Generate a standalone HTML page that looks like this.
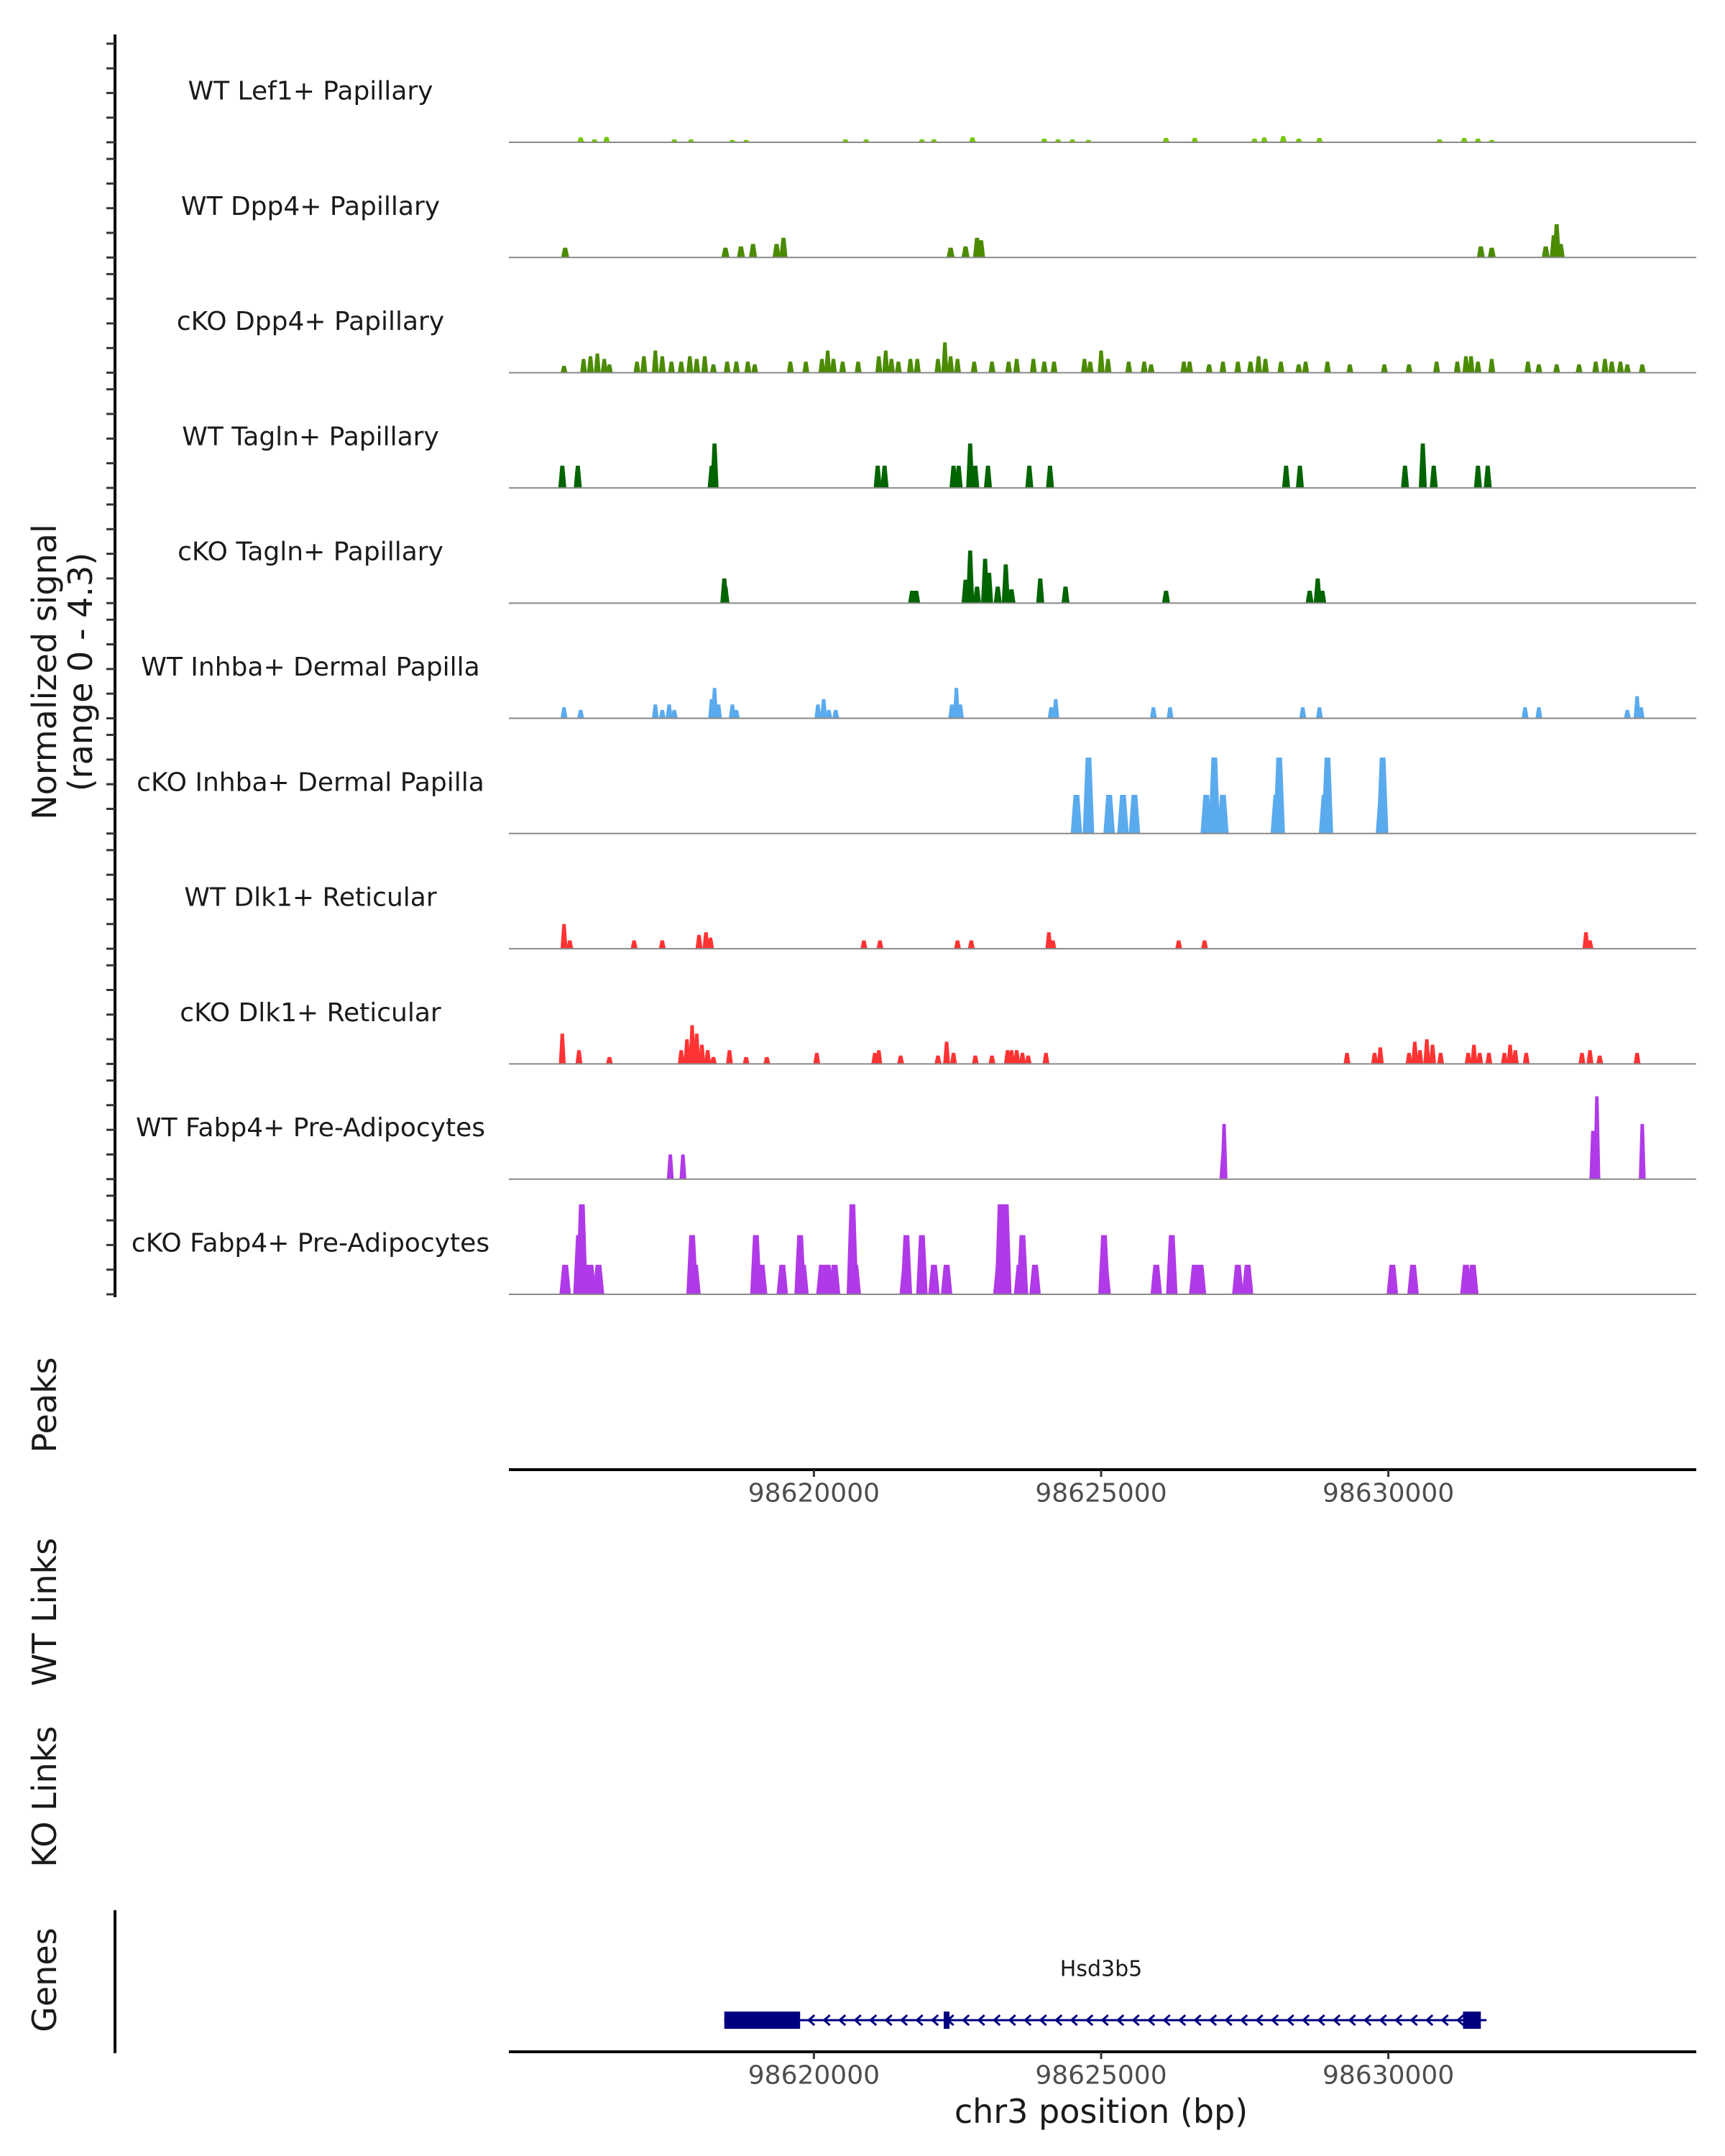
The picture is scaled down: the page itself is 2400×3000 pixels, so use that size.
<!DOCTYPE html>
<html><head><meta charset="utf-8"><style>
html,body{margin:0;padding:0;background:#fff}
svg{display:block}
text{font-family:"DejaVu Sans","Liberation Sans",sans-serif}
</style></head>
<body>
<svg id="chart" width="2400" height="3000" viewBox="0 0 2400 3000" xmlns="http://www.w3.org/2000/svg">
<g id="axes"></g>
<g id="tracks"></g>
<g id="gene"></g>
</svg>
<script>
const trackNames = ["WT Lef1+ Papillary","WT Dpp4+ Papillary","cKO Dpp4+ Papillary","WT Tagln+ Papillary","cKO Tagln+ Papillary","WT Inhba+ Dermal Papilla","cKO Inhba+ Dermal Papilla","WT Dlk1+ Reticular","cKO Dlk1+ Reticular","WT Fabp4+ Pre-Adipocytes","cKO Fabp4+ Pre-Adipocytes"];
const trackColors = ["#72c800","#4b8b00","#4b8b00","#006400","#006400","#5aaaee","#5aaaee","#ff3333","#ff3333","#b03ae8","#b03ae8"];
const peakWidthKb = [0.12,0.14,0.12,0.14,0.14,0.12,0.2,0.12,0.12,0.12,0.2];
const pos0 = [98615.94,98616.18,98616.39,98617.57,98617.86,98618.58,98618.82,98620.55,98620.91,98621.88,98622.09,98622.76,98624.01,98624.25,98624.50,98624.78,98626.13,98626.63,98627.67,98627.84,98628.17,98628.44,98628.80,98630.89,98631.32,98631.56,98631.80];
const h0 = [0.2,0.12,0.22,0.12,0.12,0.1,0.1,0.12,0.12,0.12,0.12,0.2,0.15,0.12,0.12,0.1,0.18,0.18,0.15,0.2,0.25,0.15,0.18,0.12,0.18,0.15,0.1];
const pos1 = [98615.67,98618.46,98618.73,98618.94,98619.35,98619.47,98622.38,98622.64,98622.84,98622.91,98631.61,98631.80,98632.74,98632.88,98632.93,98633.00];
const h1 = [0.4,0.4,0.45,0.55,0.55,0.8,0.4,0.45,0.8,0.7,0.45,0.4,0.45,0.9,1.35,0.55];
const pos2 = [98615.65,98615.99,98616.11,98616.23,98616.35,98616.44,98616.92,98617.04,98617.24,98617.36,98617.52,98617.69,98617.84,98617.96,98618.10,98618.25,98618.49,98618.65,98618.85,98618.97,98619.59,98619.86,98620.14,98620.24,98620.34,98620.50,98620.77,98621.13,98621.25,98621.35,98621.47,98621.68,98621.80,98622.16,98622.28,98622.38,98622.50,98622.79,98623.10,98623.39,98623.53,98623.82,98624.01,98624.18,98624.71,98624.81,98625.00,98625.12,98625.48,98625.75,98625.87,98626.44,98626.54,98626.88,98627.12,98627.38,98627.60,98627.74,98627.86,98628.13,98628.44,98628.56,98628.94,98629.33,98629.93,98630.36,98630.84,98631.20,98631.35,98631.44,98631.56,98631.80,98632.43,98632.62,98632.93,98633.32,98633.61,98633.77,98633.89,98634.04,98634.16,98634.42];
const h2 = [0.28,0.56,0.67,0.78,0.56,0.34,0.45,0.67,0.9,0.67,0.45,0.45,0.67,0.56,0.67,0.34,0.45,0.45,0.45,0.34,0.45,0.45,0.56,0.9,0.56,0.45,0.45,0.67,0.9,0.56,0.45,0.56,0.56,0.56,1.23,0.67,0.56,0.45,0.45,0.45,0.56,0.56,0.45,0.45,0.56,0.45,0.9,0.56,0.45,0.45,0.34,0.45,0.45,0.34,0.45,0.45,0.45,0.67,0.56,0.45,0.34,0.45,0.45,0.34,0.34,0.34,0.45,0.45,0.67,0.67,0.45,0.56,0.45,0.34,0.34,0.34,0.45,0.56,0.45,0.45,0.34,0.34];
const pos3 = [98615.62,98615.89,98618.22,98618.27,98621.11,98621.23,98622.43,98622.52,98622.72,98622.81,98623.03,98623.75,98624.11,98628.22,98628.46,98630.29,98630.60,98630.79,98631.56,98631.73];
const h3 = [0.9,0.9,0.9,1.8,0.9,0.9,0.9,0.9,1.8,0.9,0.9,0.9,0.9,0.9,0.9,0.9,1.8,0.9,0.9,0.9];
const pos4 = [98618.44,98618.46,98621.71,98621.78,98622.64,98622.72,98622.84,98622.98,98623.05,98623.20,98623.34,98623.44,98623.94,98624.38,98626.13,98628.63,98628.77,98628.85];
const h4 = [1.0,0.67,0.5,0.5,0.95,2.13,0.67,1.8,1.23,0.67,1.57,0.56,1.0,0.67,0.5,0.5,1.0,0.5];
const pos5 = [98615.65,98615.94,98617.24,98617.36,98617.48,98617.57,98618.22,98618.27,98618.34,98618.58,98618.65,98620.07,98620.17,98620.26,98620.38,98622.40,98622.48,98622.55,98624.13,98624.21,98625.91,98626.20,98628.51,98628.80,98632.38,98632.62,98634.16,98634.33,98634.40];
const h5 = [0.45,0.34,0.56,0.34,0.56,0.34,0.78,1.23,0.56,0.56,0.34,0.56,0.78,0.34,0.34,0.56,1.23,0.56,0.45,0.78,0.45,0.45,0.45,0.45,0.45,0.45,0.34,0.9,0.45];
const pos6 = [98624.57,98624.78,98625.14,98625.38,98625.58,98626.83,98626.97,98627.12,98628.05,98628.10,98628.89,98628.94,98629.88,98629.90];
const h6 = [1.57,3.08,1.57,1.57,1.57,1.57,3.08,1.57,1.57,3.08,1.57,3.08,1.57,3.08];
const pos7 = [98615.65,98615.75,98616.87,98617.36,98618.00,98618.12,98618.20,98620.87,98621.15,98622.50,98622.74,98624.09,98624.16,98626.35,98626.80,98633.44,98633.51];
const h7 = [1.0,0.34,0.34,0.34,0.56,0.67,0.45,0.34,0.34,0.34,0.34,0.67,0.34,0.34,0.34,0.67,0.34];
const pos8 = [98615.62,98615.91,98616.44,98617.69,98617.79,98617.88,98617.96,98618.05,98618.15,98618.25,98618.53,98618.82,98619.18,98620.05,98621.06,98621.13,98621.51,98622.16,98622.31,98622.43,98622.81,98623.10,98623.37,98623.44,98623.53,98623.63,98623.73,98624.04,98629.28,98629.76,98629.86,98630.36,98630.46,98630.55,98630.67,98630.77,98630.91,98631.39,98631.49,98631.59,98631.75,98632.02,98632.12,98632.21,98632.40,98633.37,98633.51,98633.68,98634.33];
const h8 = [1.23,0.56,0.28,0.56,1.0,1.57,1.23,0.78,0.56,0.28,0.56,0.28,0.28,0.45,0.45,0.56,0.34,0.34,0.9,0.45,0.34,0.34,0.56,0.56,0.56,0.45,0.34,0.45,0.45,0.45,0.67,0.45,0.9,0.56,1.0,0.78,0.45,0.45,0.78,0.45,0.45,0.45,0.78,0.56,0.45,0.45,0.56,0.34,0.45];
const pos9 = [98617.50,98617.72,98627.12,98627.14,98633.56,98633.63,98634.42];
const h9 = [1.0,1.0,1.0,2.24,1.96,3.36,2.24];
const pos10 = [98615.67,98615.91,98615.96,98616.01,98616.11,98616.25,98617.88,98617.93,98618.99,98619.09,98619.45,98619.76,98619.81,98620.14,98620.24,98620.36,98620.67,98620.72,98621.59,98621.61,98621.88,98622.09,98622.31,98623.22,98623.25,98623.29,98623.34,98623.58,98623.63,98623.85,98625.05,98625.07,98625.96,98626.23,98626.63,98626.73,98627.38,98627.55,98630.07,98630.43,98631.35,98631.47];
const h10 = [1.2,2.4,3.65,1.2,1.2,1.2,2.4,1.2,2.4,1.2,1.2,2.4,1.2,1.2,1.2,1.2,3.65,1.2,1.2,2.4,2.4,1.2,1.2,1.2,3.65,2.4,3.65,1.2,2.4,1.2,2.4,1.2,1.2,2.4,1.2,1.2,1.2,1.2,1.2,1.2,1.2,1.2];
const trackPos = [pos0,pos1,pos2,pos3,pos4,pos5,pos6,pos7,pos8,pos9,pos10];
const trackH = [h0,h1,h2,h3,h4,h5,h6,h7,h8,h9,h10];
const xTicks = [98620000,98625000,98630000];
const xTickLabels = ["98620000","98625000","98630000"];
const geneName = "Hsd3b5";
const geneStartKb = 98618.44, geneEndKb = 98631.71;
const exonStartKb = [98618.44,98622.26,98631.30];
const exonEndKb = [98619.76,98622.36,98631.61];

const NS="http://www.w3.org/2000/svg";
const X0=708,X1=2360, KB0=98614.69, KB1=98635.36;
function xs(kb){return X0+(kb-KB0)/(KB1-KB0)*(X1-X0);}
function xbp(bp){return xs(bp/1000);}
const UNIT=34.3;
function base(i){return 198+160.3*i;}
function mk(tag,attrs,parent){const e=document.createElementNS(NS,tag);for(const k in attrs)e.setAttribute(k,attrs[k]);parent.appendChild(e);return e;}
const axes=document.getElementById('axes'), tracks=document.getElementById('tracks'), gene=document.getElementById('gene');

let ax=mk('line',{x1:160,y1:48,x2:160,y2:1805,stroke:'#000','stroke-width':4},axes);


for(let i=0;i<11;i++){for(let k=0;k<5;k++){const y=base(i)-k*UNIT;
 const t=mk('line',{x1:148,y1:y,x2:160,y2:y,stroke:'#333','stroke-width':3},axes);
 
 }}

function txt(s,x,y,size,parent,rot,anchor){const t=mk('text',{x:x,y:y,'font-size':size,fill:'#1a1a1a','text-anchor':anchor||'middle','dominant-baseline':'central'},parent);
 if(rot)t.setAttribute('transform','rotate(-90 '+x+' '+y+')');t.textContent=s;return t;}
let tt=txt('Normalized signal',62,935,46,axes,true);


tt=txt('(range 0 - 4.3)',112,935,46,axes,true);


const sideTitles=[['Peaks',1955,'peaks-title'],['WT Links',2243,'wt-links-title'],['KO Links',2500,'ko-links-title'],['Genes',2755,'genes-title']];
sideTitles.forEach(s=>{const e=txt(s[0],62,s[1],46,axes,true);
 
 });

for(let i=0;i<11;i++){
 const g=mk('g',{},tracks);
 
 
 const b=base(i);
 const lab=txt(trackNames[i],432,b-71,36,g);
 
 
 const w=peakWidthKb[i];
 trackPos[i].forEach((p,j)=>{const h=trackH[i][j]*UNIT;const l=xs(p-w/2),r=xs(p+w/2),q=(r-l)*0.25;
  const pk=mk('polygon',{points:`${l},${b} ${l+q},${b-h} ${r-q},${b-h} ${r},${b}`,fill:trackColors[i]},g);
  
  });
 const bl=mk('line',{x1:X0,y1:b,x2:X1,y2:b,stroke:'#8a8a8a','stroke-width':2},g);
 
 
}

function xAxis(y,name){
 const l=mk('line',{x1:X0,y1:y,x2:X1,y2:y,stroke:'#000','stroke-width':4},axes);
 
 
 xTicks.forEach((v,k)=>{const x=xbp(v);
  const t=mk('line',{x1:x,y1:y,x2:x,y2:y+10,stroke:'#333','stroke-width':3},axes);
  
  
  const lb=txt(xTickLabels[k],x,y+33,36,axes);lb.setAttribute('fill','#4d4d4d');
  
  });
}
xAxis(2045,'peaks-x-axis');
xAxis(2855,'genes-x-axis');
tt=txt('chr3 position (bp)',1532,2938,46,axes);


let gl=mk('line',{x1:160,y1:2658,x2:160,y2:2857,stroke:'#000','stroke-width':4},axes);



const gy=2811, navy='#000080';
let gline=mk('line',{x1:xs(geneStartKb),y1:gy,x2:xs(geneEndKb),y2:gy,stroke:navy,'stroke-width':3},gene);


for(let x=xs(exonEndKb[0])+14;x<xs(geneEndKb)-4;x+=21.5){
 const a=mk('polyline',{points:`${x+6},${gy-7} ${x-2},${gy} ${x+6},${gy+7}`,fill:'none',stroke:navy,'stroke-width':3},gene);
 
 }
exonStartKb.forEach((s,k)=>{const e=mk('rect',{x:xs(s),y:gy-12,width:xs(exonEndKb[k])-xs(s),height:24,fill:navy},gene);
 
 });
tt=txt(geneName,1532,2740,30,gene);


</script>
</body></html>
